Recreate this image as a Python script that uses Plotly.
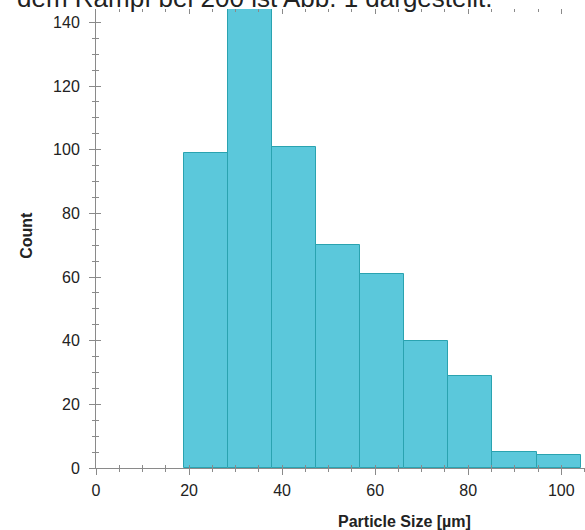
import plotly.graph_objects as go

# ---- data ----
bin_left_edges = [18.85, 28.33, 37.81, 47.29, 56.77, 66.25, 75.73, 85.21, 94.69]
bin_width = 9.48
counts = [99, 152, 101, 70, 61, 40, 29, 5, 4]

x_title = "Particle Size [µm]"
y_title = "Count"
doc_text = "dem Rampf bei 200 ist Abb. 1 dargestellt."

x_range = [0, 105.1]
y_range = [0, 144.2]

FONT = "Liberation Sans, Arial, sans-serif"
AXC = "#8a8a8a"
TXT = "#222222"

fig = go.Figure()
fig.add_trace(go.Bar(
    x=bin_left_edges, y=counts, width=[bin_width] * len(counts), offset=0,
    marker=dict(color="#5BC8DB", line=dict(color="#2AA3B0", width=1)),
    showlegend=False, hoverinfo="x+y",
))
# invisible helper traces so the overlay axes (crossing / top ticks) are drawn
fig.add_trace(go.Scatter(x=[], y=[], xaxis="x2", yaxis="y2", showlegend=False))
fig.add_trace(go.Scatter(x=[], y=[], xaxis="x3", yaxis="y", showlegend=False))

common_x = dict(range=x_range, showgrid=False, zeroline=False, tick0=0, dtick=20,
                tickcolor=AXC, tickwidth=1)
common_y = dict(range=y_range, showgrid=False, zeroline=False, tick0=0, dtick=20,
                tickcolor=AXC, tickwidth=1)

fig.update_layout(
    width=585, height=530,
    margin=dict(l=95.5, r=0, t=9, b=62.3),
    paper_bgcolor="white", plot_bgcolor="white",
    bargap=0,
    font=dict(family=FONT, size=16, color=TXT),
    xaxis=dict(**common_x, showline=True, linecolor=AXC, linewidth=1,
               ticks="outside", ticklen=6,
               minor=dict(ticks="outside", ticklen=3, dtick=5, tick0=0, tickcolor=AXC),
               tickfont=dict(family=FONT, size=16, color=TXT), ticklabelstandoff=2),
    xaxis2=dict(**common_x, overlaying="x", anchor="y2", showline=False, ticks="inside",
                ticklen=3, showticklabels=False,
                minor=dict(ticks="inside", ticklen=3, dtick=5, tick0=0, tickcolor=AXC)),
    xaxis3=dict(**common_x, overlaying="x", anchor="y", side="top", showline=False,
                ticks="inside", ticklen=5, showticklabels=False,
                minor=dict(ticks="inside", ticklen=3, dtick=5, tick0=0, tickcolor=AXC)),
    yaxis=dict(**common_y, showline=True, linecolor=AXC, linewidth=1,
               ticks="outside", ticklen=6,
               minor=dict(ticks="outside", ticklen=3, dtick=5, tick0=0, tickcolor=AXC),
               tickfont=dict(family=FONT, size=16, color=TXT), ticklabelstandoff=6),
    yaxis2=dict(**common_y, overlaying="y", anchor="x2", showline=False, ticks="inside",
                ticklen=5, showticklabels=False,
                minor=dict(ticks="inside", ticklen=3, dtick=5, tick0=0, tickcolor=AXC)),
    annotations=[
        dict(text=f"<b>{x_title}</b>", xref="paper", yref="paper", x=0.630, y=-0.116,
             xanchor="center", yanchor="middle", showarrow=False,
             font=dict(family=FONT, size=16, color=TXT)),
        dict(text=f"<b>{y_title}</b>", xref="paper", yref="paper", x=-0.142, y=0.507,
             xanchor="center", yanchor="middle", textangle=-90, showarrow=False,
             font=dict(family=FONT, size=16, color=TXT)),
        dict(text=doc_text, xref="paper", yref="paper", x=-0.166, y=1.025,
             xanchor="left", yanchor="middle", showarrow=False,
             font=dict(family=FONT, size=26, color=TXT)),
    ],
)

fig.write_html("out.html", config={"displayModeBar": False},
               post_script="document.body.style.margin='0';")
